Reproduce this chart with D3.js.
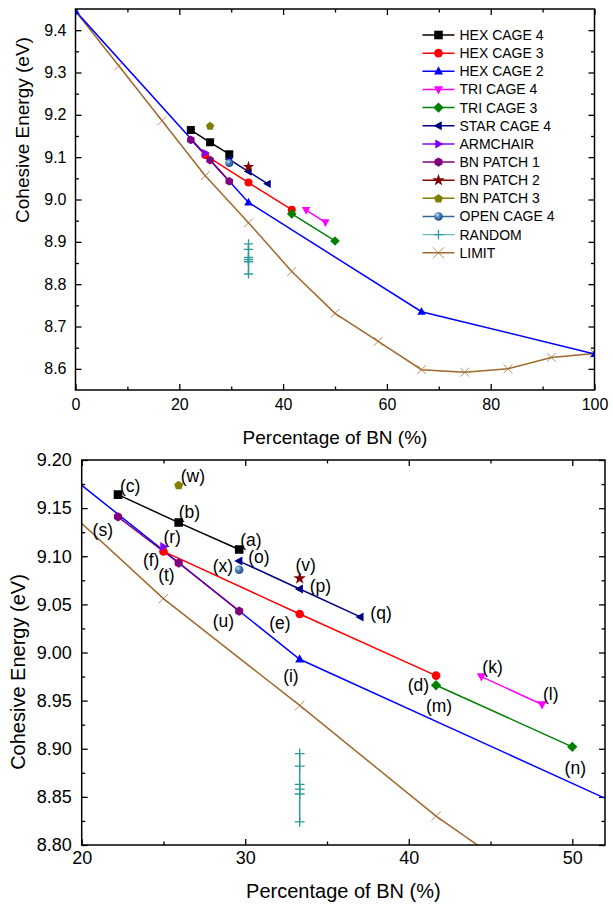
<!DOCTYPE html>
<html>
<head>
<meta charset="utf-8">
<script src="https://cdnjs.cloudflare.com/ajax/libs/d3/7.8.5/d3.min.js"></script>
<style>
  body { margin: 0; background: #fff; }
  svg { font-family: "Liberation Sans", Arial, sans-serif; }
</style>
</head>
<body>
<div id="chart"></div>
<script>
// ---- data (x = % of BN, y = cohesive energy in eV) ----
const hexCage4X = [22.22, 25.93, 29.63];
const hexCage4Y = [9.164, 9.135, 9.107];
const hexCage3X = [25.0, 33.33, 41.67];
const hexCage3Y = [9.105, 9.040, 8.976];
const hexCage2X = [0, 33.33, 66.67, 100];
const hexCage2Y = [9.445, 8.993, 8.735, 8.635];
const triCage4X = [44.44, 48.15];
const triCage4Y = [8.975, 8.946];
const triCage3X = [41.67, 50.0];
const triCage3Y = [8.966, 8.902];
const starCage4X = [29.63, 33.33, 37.04];
const starCage4Y = [9.095, 9.066, 9.037];
const armchairX = [25.0];
const armchairY = [9.110];
const bnPatch1X = [22.22, 25.93, 29.63];
const bnPatch1Y = [9.141, 9.093, 9.043];
const bnPatch2X = [33.33];
const bnPatch2Y = [9.077];
const bnPatch3X = [25.93];
const bnPatch3Y = [9.174];
const openCage4X = [29.63];
const openCage4Y = [9.086];
const randomX = [33.33, 33.33, 33.33, 33.33, 33.33, 33.33];
const randomY = [8.895, 8.882, 8.863, 8.858, 8.853, 8.824];
const limitX = [0, 8.33, 16.67, 25, 33.33, 41.67, 50, 58.33, 66.67, 75, 83.33, 91.67, 100];
const limitY = [9.445, 9.316, 9.186, 9.056, 8.945, 8.830, 8.731, 8.665, 8.598, 8.592, 8.600, 8.627, 8.636];

// point labels of the zoomed plot: text, series, point index
const pointLabels = [
  ["(a)", "HEX CAGE 4", 2], ["(b)", "HEX CAGE 4", 1], ["(c)", "HEX CAGE 4", 0],
  ["(d)", "HEX CAGE 3", 2], ["(e)", "HEX CAGE 3", 1], ["(f)", "HEX CAGE 3", 0],
  ["(i)", "HEX CAGE 2", 1], ["(k)", "TRI CAGE 4", 0], ["(l)", "TRI CAGE 4", 1],
  ["(m)", "TRI CAGE 3", 0], ["(n)", "TRI CAGE 3", 1],
  ["(o)", "STAR CAGE 4", 0], ["(p)", "STAR CAGE 4", 1], ["(q)", "STAR CAGE 4", 2],
  ["(r)", "ARMCHAIR", 0], ["(s)", "BN PATCH 1", 0], ["(t)", "BN PATCH 1", 1],
  ["(u)", "BN PATCH 1", 2], ["(v)", "BN PATCH 2", 0], ["(w)", "BN PATCH 3", 0],
  ["(x)", "STAR CAGE 4", 0]
];

// label placement relative to its point (anchor, dx, dy) in px
const LABEL_POS = {
  "(a)": ["start", 1, -10], "(b)": ["start", 0, -11], "(c)": ["start", 2, -9],
  "(d)": ["end", -7, 9], "(e)": ["end", -9, 9], "(f)": ["end", -4, 8],
  "(i)": ["end", -1, 17], "(k)": ["start", 1, -10], "(l)": ["start", 1, -11],
  "(m)": ["middle", 3, 21], "(n)": ["middle", 3, 21], "(o)": ["start", 9, -4],
  "(p)": ["start", 10, -3], "(q)": ["start", 10, -4], "(r)": ["start", 0, -10],
  "(s)": ["end", -5, 13], "(t)": ["end", -4, 12], "(u)": ["end", -5, 10],
  "(v)": ["middle", 6, -14], "(w)": ["start", 2, -9], "(x)": ["end", -6, 5]
};

// series in legend order, with colour and symbol
const SERIES = [
  { name: "HEX CAGE 4", xs: hexCage4X, ys: hexCage4Y, color: "#000000", shape: "square" },
  { name: "HEX CAGE 3", xs: hexCage3X, ys: hexCage3Y, color: "#ff0000", shape: "circle" },
  { name: "HEX CAGE 2", xs: hexCage2X, ys: hexCage2Y, color: "#0000ff", shape: "triUp" },
  { name: "TRI CAGE 4", xs: triCage4X, ys: triCage4Y, color: "#ff00ff", shape: "triDown" },
  { name: "TRI CAGE 3", xs: triCage3X, ys: triCage3Y, color: "#008000", shape: "diamond" },
  { name: "STAR CAGE 4", xs: starCage4X, ys: starCage4Y, color: "#000080", shape: "triLeft" },
  { name: "ARMCHAIR", xs: armchairX, ys: armchairY, color: "#8000ff", shape: "triRight" },
  { name: "BN PATCH 1", xs: bnPatch1X, ys: bnPatch1Y, color: "#800080", shape: "hexagon" },
  { name: "BN PATCH 2", xs: bnPatch2X, ys: bnPatch2Y, color: "#800000", shape: "star" },
  { name: "BN PATCH 3", xs: bnPatch3X, ys: bnPatch3Y, color: "#808000", shape: "pentagon" },
  { name: "OPEN CAGE 4", xs: openCage4X, ys: openCage4Y, color: "#336699", shape: "sphere" },
  { name: "RANDOM", xs: randomX, ys: randomY, color: "#2f9a9a", shape: "plus" },
  { name: "LIMIT", xs: limitX, ys: limitY, color: "#a0682c", shape: "cross" }
];
// drawing order (later = on top)
const DRAW_ORDER = ["LIMIT", "RANDOM", "HEX CAGE 2", "HEX CAGE 3", "HEX CAGE 4", "TRI CAGE 3",
  "TRI CAGE 4", "STAR CAGE 4", "BN PATCH 1", "ARMCHAIR", "BN PATCH 2", "BN PATCH 3", "OPEN CAGE 4"];

const W = 613, H = 909;

// path of a marker centred on 0,0, r = half size
function symbolPath(shape, r) {
  const poly = pts => "M" + pts.map(p => p[0].toFixed(2) + "," + p[1].toFixed(2)).join("L") + "Z";
  const ngon = (n, rot) => d3.range(n).map(i => {
    const a = rot + i * 2 * Math.PI / n;
    return [r * Math.cos(a), r * Math.sin(a)];
  });
  switch (shape) {
    case "square": return poly([[-r, -r], [r, -r], [r, r], [-r, r]]);
    case "circle":
    case "sphere": return d3.symbol(d3.symbolCircle, Math.PI * r * r)();
    case "triUp": return poly([[0, -r * 1.15], [r * 1.05, r * 0.75], [-r * 1.05, r * 0.75]]);
    case "triDown": return poly([[0, r * 1.15], [r * 1.05, -r * 0.75], [-r * 1.05, -r * 0.75]]);
    case "triLeft": return poly([[-r * 1.15, 0], [r * 0.75, -r * 1.05], [r * 0.75, r * 1.05]]);
    case "triRight": return poly([[r * 1.15, 0], [-r * 0.75, -r * 1.05], [-r * 0.75, r * 1.05]]);
    case "diamond": return poly([[0, -r * 1.2], [r * 1.2, 0], [0, r * 1.2], [-r * 1.2, 0]]);
    case "hexagon": return poly(ngon(6, -Math.PI / 2).map(p => [p[0] * 1.08, p[1] * 1.08]));
    case "pentagon": return poly(ngon(5, -Math.PI / 2).map(p => [p[0] * 1.1, p[1] * 1.1 + r * 0.1]));
    case "star": return d3.symbol(d3.symbolStar, r * r * 2.6)();
    case "plus": return `M${-r * 1.15},0H${r * 1.15}M0,${-r * 1.15}V${r * 1.15}`;
    case "cross": return `M${-r},${-r}L${r},${r}M${-r},${r}L${r},${-r}`;
  }
}

function drawMarker(sel, s, r) {
  const p = sel.append("path").attr("d", symbolPath(s.shape, r));
  if (s.shape === "plus" || s.shape === "cross") {
    p.attr("fill", "none").attr("stroke", s.color)
      .attr("stroke-width", s.shape === "plus" ? 1.3 : 1)
      .attr("stroke-opacity", s.shape === "cross" ? 0.75 : 1);
  } else if (s.shape === "sphere") {
    p.attr("fill", "url(#sphereGrad)");
  } else {
    p.attr("fill", s.color);
  }
  return p;
}

// one framed plot
function drawPlot(svg, cfg) {
  const w = cfg.right - cfg.left, h = cfg.bottom - cfg.top;
  const x = d3.scaleLinear().domain(cfg.xDomain).range([0, w]);
  const y = d3.scaleLinear().domain(cfg.yDomain).range([h, 0]);
  const g = svg.append("g").attr("transform", `translate(${cfg.left},${cfg.top})`);

  g.append("clipPath").attr("id", "clip-" + cfg.id)
    .append("rect").attr("width", w).attr("height", h);

  // ticks, all pointing in
  const tickStyle = a => {
    a.select(".domain").remove();
    a.selectAll(".tick line").attr("stroke", "#000").attr("stroke-width", 1.3);
    a.selectAll(".tick text").attr("fill", "#000").style("font-size", cfg.tickFont + "px");
  };
  const axes = [
    [d3.axisBottom(x).tickValues(cfg.xMajor).tickFormat(d3.format("d")).tickSizeInner(-6).tickSizeOuter(0).tickPadding(cfg.xPad), `translate(0,${h})`],
    [d3.axisBottom(x).tickValues(cfg.xMinor).tickFormat("").tickSizeInner(-3.5).tickSizeOuter(0), `translate(0,${h})`],
    [d3.axisTop(x).tickValues(cfg.xMajor).tickFormat("").tickSizeInner(-6).tickSizeOuter(0), null],
    [d3.axisTop(x).tickValues(cfg.xMinor).tickFormat("").tickSizeInner(-3.5).tickSizeOuter(0), null],
    [d3.axisLeft(y).tickValues(cfg.yMajor).tickFormat(d3.format(cfg.yFmt)).tickSizeInner(-6).tickSizeOuter(0).tickPadding(cfg.yPad), null],
    [d3.axisLeft(y).tickValues(cfg.yMinor).tickFormat("").tickSizeInner(-3.5).tickSizeOuter(0), null],
    [d3.axisRight(y).tickValues(cfg.yMajor).tickFormat("").tickSizeInner(-6).tickSizeOuter(0), `translate(${w},0)`],
    [d3.axisRight(y).tickValues(cfg.yMinor).tickFormat("").tickSizeInner(-3.5).tickSizeOuter(0), `translate(${w},0)`]
  ];
  axes.forEach(([ax, tr]) => {
    const a = g.append("g").call(ax).attr("font-family", null).attr("font-size", null);
    if (tr) a.attr("transform", tr);
    tickStyle(a);
  });

  // series
  const plotArea = g.append("g").attr("clip-path", `url(#clip-${cfg.id})`);
  const byName = {};
  SERIES.forEach(s => byName[s.name] = s);
  const line = d3.line().x(d => x(d[0])).y(d => y(d[1]));
  DRAW_ORDER.forEach(name => {
    const s = byName[name];
    const pts = s.xs.map((v, i) => [v, s.ys[i]]);
    if (pts.length > 1) {
      plotArea.append("path").datum(pts).attr("d", line)
        .attr("fill", "none").attr("stroke", s.color).attr("stroke-width", 1.5);
    }
  });
  DRAW_ORDER.forEach(name => {
    const s = byName[name];
    const pts = s.xs.map((v, i) => [v, s.ys[i]]);
    const r = s.shape === "cross" ? cfg.markR * 1.1 : cfg.markR;
    plotArea.append("g").selectAll("g").data(pts).enter().append("g")
      .attr("transform", d => `translate(${x(d[0])},${y(d[1])})`)
      .each(function () { drawMarker(d3.select(this), s, r); });
  });

  // frame
  g.append("rect").attr("width", w).attr("height", h)
    .attr("fill", "none").attr("stroke", "#000").attr("stroke-width", 1.5);

  // axis titles
  svg.append("text").attr("x", cfg.left + w / 2).attr("y", cfg.xTitleY)
    .attr("text-anchor", "middle").attr("dy", "0.35em")
    .style("font-size", cfg.titleFont + "px").text("Percentage of BN (%)");
  svg.append("text")
    .attr("transform", `translate(${cfg.yTitleX},${cfg.yTitleY}) rotate(-90)`)
    .attr("text-anchor", "middle").attr("dy", "0.35em")
    .style("font-size", cfg.titleFont + "px").text("Cohesive Energy (eV)");

  return { g, x, y, byName };
}

const svg = d3.select("#chart").append("svg").attr("width", W).attr("height", H);

// gradient for the OPEN CAGE 4 ball
const grad = svg.append("defs").append("radialGradient").attr("id", "sphereGrad")
  .attr("cx", "40%").attr("cy", "40%").attr("r", "60%").attr("fx", "35%").attr("fy", "30%");
grad.append("stop").attr("offset", "0%").attr("stop-color", "#d8e6f5");
grad.append("stop").attr("offset", "45%").attr("stop-color", "#4f86c0");
grad.append("stop").attr("offset", "100%").attr("stop-color", "#1d4c86");

// ---- top plot: full range ----
const topPlot = drawPlot(svg, {
  id: "full", left: 75.5, right: 594.5, top: 9, bottom: 390,
  xDomain: [0, 100], yDomain: [8.55, 9.45],
  xMajor: [0, 20, 40, 60, 80, 100], xMinor: [10, 30, 50, 70, 90],
  yMajor: d3.range(8.6, 9.401, 0.1), yMinor: d3.range(8.65, 9.36, 0.1), yFmt: ".1f",
  tickFont: 16, xPad: 9, yPad: 9, titleFont: 19, markR: 4,
  xTitleY: 437, yTitleX: 22, yTitleY: 130
});

// legend
const legend = topPlot.g.append("g").attr("transform", "translate(347,26)");
SERIES.forEach((s, i) => {
  const row = legend.append("g").attr("transform", `translate(0,${i * 18.15})`);
  row.append("line").attr("x1", 0).attr("x2", 32)
    .attr("stroke", s.color).attr("stroke-width", s.shape === "plus" ? 1.2 : 1.5)
    .attr("stroke-opacity", s.shape === "plus" ? 0.7 : 1);
  const m = row.append("g").attr("transform", "translate(16,0)");
  drawMarker(m, s, s.shape === "cross" ? 5.5 : 4.3);
  row.append("text").attr("x", 37).attr("dy", "0.35em")
    .style("font-size", "14px").text(s.name);
});

// ---- bottom plot: zoom on 20-52 % ----
const zoomPlot = drawPlot(svg, {
  id: "zoom", left: 81.7, right: 605, top: 460, bottom: 845,
  xDomain: [20, 52], yDomain: [8.8, 9.2],
  xMajor: [20, 30, 40, 50], xMinor: [25, 35, 45],
  yMajor: d3.range(8.8, 9.201, 0.05), yMinor: d3.range(8.825, 9.19, 0.05), yFmt: ".2f",
  tickFont: 18, xPad: 6.5, yPad: 10, titleFont: 20, markR: 4.3,
  xTitleY: 891, yTitleX: 18, yTitleY: 672
});

// point labels
zoomPlot.g.append("g").selectAll("text").data(pointLabels).enter().append("text")
  .attr("x", d => zoomPlot.x(zoomPlot.byName[d[1]].xs[d[2]]) + LABEL_POS[d[0]][1])
  .attr("y", d => zoomPlot.y(zoomPlot.byName[d[1]].ys[d[2]]) + LABEL_POS[d[0]][2])
  .attr("text-anchor", d => LABEL_POS[d[0]][0])
  .attr("dy", "0.35em")
  .style("font-size", "17.5px")
  .text(d => d[0]);
</script>
</body>
</html>
